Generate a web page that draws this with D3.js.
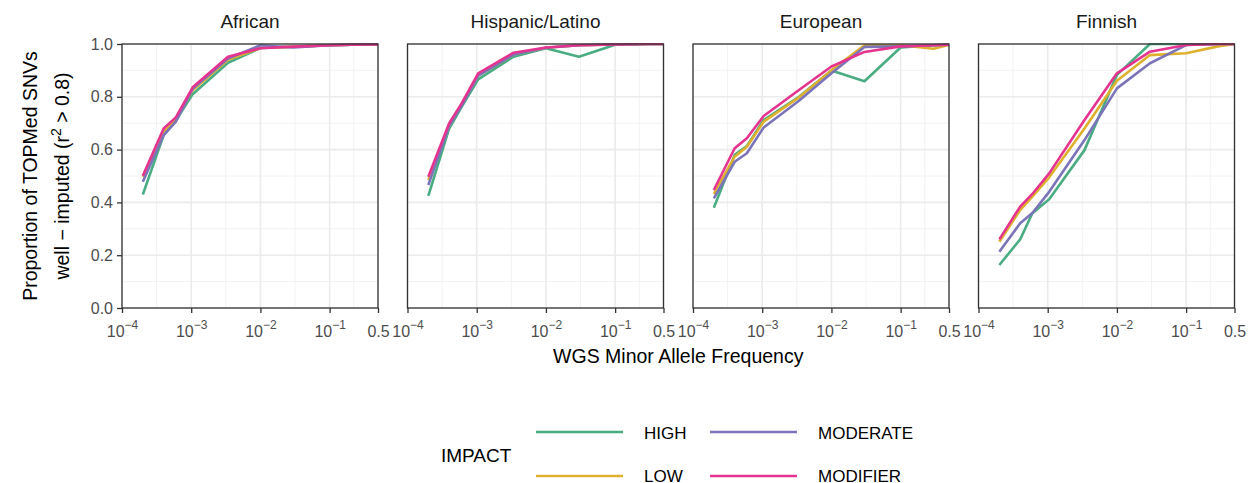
<!DOCTYPE html>
<html>
<head>
<meta charset="utf-8">
<script src="https://cdn.jsdelivr.net/npm/d3@7"></script>
<style>
  html, body { margin: 0; padding: 0; background: #ffffff; }
  svg { display: block; font-family: "Liberation Sans", Arial, Helvetica, sans-serif; }
</style>
</head>
<body>
<svg id="chart" width="1252" height="483"></svg>
<script>
// Populations shown as facets
const populations = ["African", "Hispanic/Latino", "European", "Finnish"];
// Variant impact classes
const impacts = ["HIGH", "LOW", "MODERATE", "MODIFIER"];
const impactColors = ["#4aac82", "#ddb12e", "#7b74b9", "#e4348f"];

// WGS minor allele frequency bin positions
const maf = [2e-4, 4e-4, 6e-4, 1.05e-3, 3.4e-3, 1e-2, 3e-2, 0.1, 0.3, 0.5];

// Proportion well-imputed, one array per population x impact
const africanHigh     = [0.430, 0.655, 0.710, 0.810, 0.929, 0.985, 0.990, 0.995, 0.998, 0.998];
const africanLow      = [0.497, 0.670, 0.715, 0.825, 0.940, 0.985, 0.990, 0.995, 0.998, 0.998];
const africanModerate = [0.478, 0.655, 0.706, 0.830, 0.945, 0.995, 0.987, 0.995, 0.998, 0.998];
const africanModifier = [0.501, 0.680, 0.722, 0.836, 0.952, 0.984, 0.990, 0.995, 0.998, 0.998];

const hispanicHigh     = [0.425, 0.680, 0.760, 0.866, 0.952, 0.984, 0.952, 0.997, 1.000, 1.000];
const hispanicLow      = [0.485, 0.690, 0.770, 0.880, 0.960, 0.986, 0.995, 0.998, 1.000, 1.000];
const hispanicModerate = [0.466, 0.690, 0.765, 0.880, 0.960, 0.986, 0.995, 0.998, 1.000, 1.000];
const hispanicModifier = [0.497, 0.700, 0.773, 0.889, 0.967, 0.987, 0.995, 0.998, 1.000, 1.000];

const europeanHigh     = [0.380, 0.580, 0.613, 0.712, 0.800, 0.900, 0.859, 0.987, 0.995, 0.997];
const europeanLow      = [0.432, 0.573, 0.611, 0.706, 0.798, 0.900, 0.995, 0.995, 0.982, 0.997];
const europeanModerate = [0.415, 0.554, 0.586, 0.684, 0.785, 0.889, 0.989, 0.991, 0.995, 0.997];
const europeanModifier = [0.447, 0.605, 0.643, 0.727, 0.826, 0.915, 0.970, 0.991, 0.995, 0.997];

const finnishHigh     = [0.163, 0.260, 0.359, 0.412, 0.598, 0.883, 1.000, 1.000, 1.000, 1.000];
const finnishLow      = [0.251, 0.371, 0.422, 0.495, 0.680, 0.861, 0.958, 0.965, 0.992, 1.000];
const finnishModerate = [0.213, 0.321, 0.360, 0.440, 0.636, 0.832, 0.927, 0.996, 1.000, 1.000];
const finnishModifier = [0.260, 0.384, 0.432, 0.510, 0.712, 0.889, 0.971, 0.996, 1.000, 1.000];

const seriesByPopulation = [
  [africanHigh, africanLow, africanModerate, africanModifier],
  [hispanicHigh, hispanicLow, hispanicModerate, hispanicModifier],
  [europeanHigh, europeanLow, europeanModerate, europeanModifier],
  [finnishHigh, finnishLow, finnishModerate, finnishModifier]
];

// Axis breaks
const xMajor = [1e-4, 1e-3, 1e-2, 1e-1, 0.5];
const xMajorLabels = [["10", "\u22124"], ["10", "\u22123"], ["10", "\u22122"], ["10", "\u22121"], ["0.5", null]];
const yMajor = [0, 0.2, 0.4, 0.6, 0.8, 1.0];
const yMinor = [0.1, 0.3, 0.5, 0.7, 0.9];

// ---- layout ----
const panelTop = 44, panelBottom = 308;
const panelW = 256, panelLeft0 = 122, panelStep = 285.5;

const svg = d3.select("#chart");

const x = d3.scaleLog().domain([1e-4, 0.5]).range([0, panelW]);
const y = d3.scaleLinear().domain([0, 1]).range([panelBottom - panelTop, 0]);
const ph = panelBottom - panelTop;

// minor x breaks halfway between majors in log space
const xMinor = d3.pairs(xMajor).map(([a, b]) => Math.pow(10, (Math.log10(a) + Math.log10(b)) / 2));

const line = d3.line().x((d, i) => x(maf[i])).y(d => y(d));

populations.forEach((pop, pi) => {
  const g = svg.append("g").attr("transform", `translate(${panelLeft0 + pi * panelStep},${panelTop})`);

  g.append("rect").attr("width", panelW).attr("height", ph).attr("fill", "#ffffff");

  // grid
  g.selectAll(".gx-minor").data(xMinor).join("line")
    .attr("x1", d => x(d)).attr("x2", d => x(d)).attr("y1", 0).attr("y2", ph)
    .attr("stroke", "#f1f1f1").attr("stroke-width", 0.9);
  g.selectAll(".gy-minor").data(yMinor).join("line")
    .attr("y1", d => y(d)).attr("y2", d => y(d)).attr("x1", 0).attr("x2", panelW)
    .attr("stroke", "#f1f1f1").attr("stroke-width", 0.9);
  g.selectAll(".gx-major").data(xMajor).join("line")
    .attr("x1", d => x(d)).attr("x2", d => x(d)).attr("y1", 0).attr("y2", ph)
    .attr("stroke", "#ebebeb").attr("stroke-width", 1.6);
  g.selectAll(".gy-major").data(yMajor).join("line")
    .attr("y1", d => y(d)).attr("y2", d => y(d)).attr("x1", 0).attr("x2", panelW)
    .attr("stroke", "#ebebeb").attr("stroke-width", 1.6);

  // clip for data
  const clipId = "clip" + pi;
  g.append("clipPath").attr("id", clipId).append("rect")
    .attr("x", 0).attr("y", -1).attr("width", panelW).attr("height", ph + 2);

  const lines = g.append("g").attr("clip-path", `url(#${clipId})`);
  seriesByPopulation[pi].forEach((vals, si) => {
    lines.append("path").datum(vals)
      .attr("d", line)
      .attr("fill", "none")
      .attr("stroke", impactColors[si])
      .attr("stroke-width", 2.6)
      .attr("stroke-linejoin", "round");
  });

  // border
  g.append("rect").attr("width", panelW).attr("height", ph)
    .attr("fill", "none").attr("stroke", "#333333").attr("stroke-width", 1.3);

  // strip title
  svg.append("text")
    .attr("x", panelLeft0 + pi * panelStep + panelW / 2).attr("y", 28)
    .attr("text-anchor", "middle").attr("font-size", 19).attr("fill", "#1a1a1a")
    .text(pop);

  // x axis
  const xAxis = d3.axisBottom(x).tickValues(xMajor).tickSize(5).tickPadding(3).tickFormat(() => "");
  const ax = g.append("g").attr("transform", `translate(0,${ph})`).call(xAxis);
  ax.select(".domain").remove();
  ax.selectAll(".tick line").attr("stroke", "#333333").attr("stroke-width", 1.3);
  ax.selectAll(".tick text").each(function(d, i) {
    const t = d3.select(this);
    t.text(null).attr("font-size", 16).attr("fill", "#4d4d4d").attr("y", 29).attr("dy", null)
      .attr("font-family", "'Liberation Sans', Arial, sans-serif");
    const [base, sup] = xMajorLabels[i];
    t.append("tspan").text(base);
    if (sup) t.append("tspan").attr("dy", -8).attr("font-size", 12).text(sup);
  });

  // y axis on first panel only
  if (pi === 0) {
    const yAxis = d3.axisLeft(y).tickValues(yMajor).tickSize(5).tickPadding(4).tickFormat(d3.format(".1f"));
    const ay = g.append("g").call(yAxis);
    ay.select(".domain").remove();
    ay.selectAll(".tick line").attr("stroke", "#333333").attr("stroke-width", 1.3);
    ay.selectAll(".tick text").attr("font-size", 16).attr("fill", "#4d4d4d")
      .attr("font-family", "'Liberation Sans', Arial, sans-serif");
  }
});

// axis titles
svg.append("text")
  .attr("x", (panelLeft0 + panelLeft0 + 3 * panelStep + panelW) / 2).attr("y", 363)
  .attr("text-anchor", "middle").attr("font-size", 19.5).attr("fill", "#000")
  .text("WGS Minor Allele Frequency");

const yMid = (panelTop + panelBottom) / 2;
svg.append("text")
  .attr("transform", `translate(37,${yMid}) rotate(-90)`)
  .attr("text-anchor", "middle").attr("font-size", 19.5).attr("fill", "#000")
  .text("Proportion of TOPMed SNVs");
const yt2 = svg.append("text")
  .attr("transform", `translate(69,${yMid}) rotate(-90)`)
  .attr("text-anchor", "middle").attr("font-size", 19.5).attr("fill", "#000");
yt2.append("tspan").text("well \u2212 imputed (r");
yt2.append("tspan").attr("dy", -8).attr("font-size", 14).text("2");
yt2.append("tspan").attr("dy", 8).text(" > 0.8)");

// legend
const legend = svg.append("g");
legend.append("text").attr("x", 441).attr("y", 462).attr("font-size", 19).attr("fill", "#000").text("IMPACT");
const legendPos = [
  { kx: 536, ky: 432, tx: 644, ty: 439 },
  { kx: 536, ky: 476, tx: 644, ty: 482 },
  { kx: 710, ky: 432, tx: 818, ty: 439 },
  { kx: 710, ky: 476, tx: 818, ty: 482 }
];
impacts.forEach((name, i) => {
  const p = legendPos[i];
  legend.append("line").attr("x1", p.kx).attr("x2", p.kx + 87).attr("y1", p.ky).attr("y2", p.ky)
    .attr("stroke", impactColors[i]).attr("stroke-width", 2.7);
  legend.append("text").attr("x", p.tx).attr("y", p.ty).attr("font-size", 17).attr("fill", "#000").text(name);
});
</script>
</body>
</html>
